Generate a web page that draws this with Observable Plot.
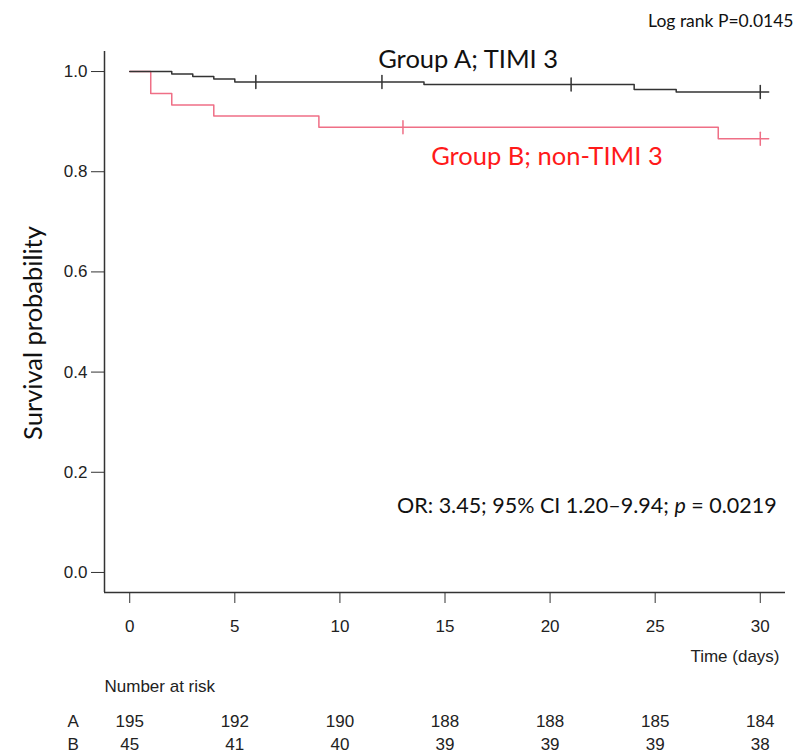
<!DOCTYPE html>
<html>
<head>
<meta charset="utf-8">
<script src="https://cdn.jsdelivr.net/npm/d3@7"></script>
<script src="https://cdn.jsdelivr.net/npm/@observablehq/plot@0.6"></script>
<style>
  html, body { margin: 0; padding: 0; background: #fff; }
  #chart svg { display: block; }
</style>
</head>
<body>
<div id="chart"></div>
<script>
// Kaplan–Meier step data
const timesA = [0, 2, 3, 4, 5, 14, 24, 26, 30.4];
const survA  = [1.0, 0.995, 0.990, 0.985, 0.979, 0.974, 0.964, 0.959, 0.959];
const timesB = [0, 1, 2, 4, 9, 28, 30.4];
const survB  = [1.0, 0.956, 0.933, 0.911, 0.889, 0.866, 0.866];
// censoring marks
const censorTimesA = [6, 12, 21, 30];
const censorSurvA  = [0.979, 0.979, 0.974, 0.959];
const censorTimesB = [13, 30];
const censorSurvB  = [0.889, 0.866];
// axes
const xTicks = [0, 5, 10, 15, 20, 25, 30];
const yTicks = [0, 0.2, 0.4, 0.6, 0.8, 1.0];
// number at risk
const riskTimes = [0, 5, 10, 15, 20, 25, 30];
const riskA = [195, 192, 190, 188, 188, 185, 184];
const riskB = [45, 41, 40, 39, 39, 39, 38];
// annotations (anchor positions in data units)
const labelA = {text: "Group A; TIMI 3", x: 16.1, y: 1.024};
const labelB = {text: "Group B; non-TIMI 3", x: 19.85, y: 0.83};
const orParts = ["OR: 3.45; 95% CI 1.20–9.94; ", "p", " = 0.0219"];
const orAnchor = {x: 21.75, y: 0.132};
const logRankText = "Log rank P=0.0145";

const colA = "#333333";
const colB = "#ef6f86";
const colBText = "#ff1a1a";
const textFont = "Lato, 'Open Sans', sans-serif";
const axisFont = "'Liberation Sans Narrow', 'Liberation Sans', Arial, sans-serif";

const lineA = timesA.map((t, i) => ({t, s: survA[i]}));
const lineB = timesB.map((t, i) => ({t, s: survB[i]}));
const censA = censorTimesA.map((t, i) => ({t, s: censorSurvA[i]}));
const censB = censorTimesB.map((t, i) => ({t, s: censorSurvB[i]}));
const risk = riskTimes.map((t, i) => ({t, a: riskA[i], b: riskB[i]}));

const vbar = {
  draw(context, l) {
    context.moveTo(0, 0);
    context.lineTo(0, -l);
  }
};

const chart = Plot.plot({
  width: 794,
  height: 755,
  marginTop: 51,
  marginBottom: 163,
  marginLeft: 104,
  marginRight: 9,
  style: {background: "#fff", overflow: "visible"},
  x: {domain: [-1.2, 31.2]},
  y: {domain: [-0.04, 1.04]},
  marks: [
    Plot.axisY(yTicks, {
      tickSize: 13, tickPadding: 4, tickFormat: d3.format(".1f"),
      fontSize: 17, fontFamily: axisFont, stroke: "#333", color: "#222", label: null
    }),
    Plot.axisX(xTicks, {
      tickSize: 11, tickPadding: 16, fontSize: 17, fontFamily: axisFont,
      stroke: "#333", color: "#222", label: null
    }),
    Plot.ruleX([-1.2], {stroke: "#333", strokeWidth: 1.5}),
    Plot.ruleY([-0.04], {stroke: "#333", strokeWidth: 1.5}),
    Plot.line(lineB, {x: "t", y: "s", curve: "step-after", stroke: colB, strokeWidth: 1.5}),
    Plot.line(lineA, {x: "t", y: "s", curve: "step-after", stroke: colA, strokeWidth: 1.5}),
    Plot.vector(censA, {x: "t", y: "s", length: 13, rotate: 0, anchor: "middle", shape: vbar, stroke: colA, strokeWidth: 1.5}),
    Plot.vector(censB, {x: "t", y: "s", length: 13, rotate: 0, anchor: "middle", shape: vbar, stroke: colB, strokeWidth: 1.5}),
    Plot.text([labelA], {x: "x", y: "y", text: "text", fontSize: 25.5, fontFamily: textFont, fill: "#111"}),
    Plot.text([labelB], {x: "x", y: "y", text: "text", fontSize: 25.5, fontFamily: textFont, fill: colBText}),
    Plot.text([orAnchor], {x: "x", y: "y", text: () => orParts.join(""), fontSize: 21.5, fontFamily: textFont, fill: "#111", className: "or-note"}),
    Plot.text([logRankText], {frameAnchor: "top-right", textAnchor: "end", dx: 8, dy: -37, fontSize: 17.5, fontFamily: textFont, fill: "#111"}),
    Plot.text(["Survival probability"], {frameAnchor: "left", textAnchor: "middle", rotate: -90, dx: -71, dy: 11, fontSize: 25.5, fontFamily: textFont, fill: "#111"}),
    Plot.text(["Time (days)"], {frameAnchor: "bottom-right", textAnchor: "end", dx: -6, dy: 69, fontSize: 17, fontFamily: axisFont, fill: "#222"}),
    Plot.text(["Number at risk"], {frameAnchor: "bottom-left", textAnchor: "start", dx: 0, dy: 99, fontSize: 17, fontFamily: axisFont, fill: "#222"}),
    Plot.text(["A"], {frameAnchor: "bottom-left", dx: -37, dy: 134, fontSize: 17, fontFamily: axisFont, fill: "#222"}),
    Plot.text(["B"], {frameAnchor: "bottom-left", dx: -37, dy: 157, fontSize: 17, fontFamily: axisFont, fill: "#222"}),
    Plot.text(risk, {x: "t", text: "a", frameAnchor: "bottom", dy: 134, fontSize: 17, fontFamily: axisFont, fill: "#222"}),
    Plot.text(risk, {x: "t", text: "b", frameAnchor: "bottom", dy: 157, fontSize: 17, fontFamily: axisFont, fill: "#222"})
  ]
});

// italic "p" inside the OR annotation
const orNode = d3.select(chart).select(".or-note text");
orNode.text(null);
orParts.forEach((part, i) => {
  orNode.append("tspan").attr("font-style", i === 1 ? "italic" : null).text(part);
});

document.getElementById("chart").appendChild(chart);
</script>
</body>
</html>
